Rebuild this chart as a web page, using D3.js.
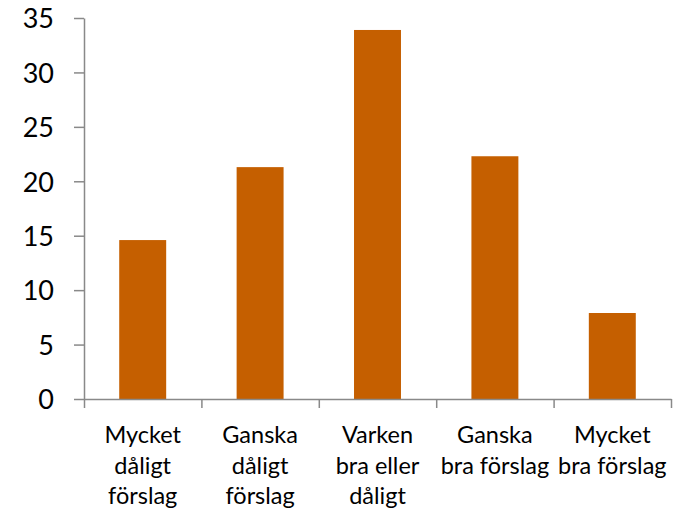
<!DOCTYPE html>
<html>
<head>
<meta charset="utf-8">
<script src="https://cdn.jsdelivr.net/npm/d3@7"></script>
<style>
  body { margin: 0; background: #fff; }
  text { font-family: Lato, "Open Sans", sans-serif; fill: #000; }
</style>
</head>
<body>
<div id="chart"></div>
<script>
// data
const categories = ['Mycket dåligt förslag', 'Ganska dåligt förslag', 'Varken bra eller dåligt', 'Ganska bra förslag', 'Mycket bra förslag'];
const labelLines = [
  ['Mycket', 'dåligt', 'förslag'],
  ['Ganska', 'dåligt', 'förslag'],
  ['Varken', 'bra eller', 'dåligt'],
  ['Ganska', 'bra förslag'],
  ['Mycket', 'bra förslag']
];
const values = [14.6, 21.3, 33.9, 22.3, 7.9];
const yTicks = [0, 5, 10, 15, 20, 25, 30, 35];

const W = 681, H = 514;
const margin = { left: 84, right: 10, top: 18, bottom: 115 };
const width = W - margin.left - margin.right;
const height = H - margin.top - margin.bottom;
const axisColor = '#898989';

const svg = d3.select('#chart')
  .append('svg')
  .attr('width', W)
  .attr('height', H);

const g = svg.append('g')
  .attr('transform', 'translate(' + margin.left + ',' + margin.top + ')');

// scales
const x = d3.scaleBand()
  .domain(categories)
  .range([0, width])
  .paddingInner(0.6)
  .paddingOuter(0.3);

const xEdge = d3.scaleLinear()
  .domain([0, categories.length])
  .range([0, width]);

const y = d3.scaleLinear().domain([0, 35]).range([height, 0]);

// bars
g.selectAll('rect.bar')
  .data(values)
  .enter()
  .append('rect')
  .attr('class', 'bar')
  .attr('x', (d, i) => x(categories[i]))
  .attr('width', x.bandwidth())
  .attr('y', d => y(d))
  .attr('height', d => y(0) - y(d))
  .attr('fill', '#c55f00');

// y axis
const yAxis = g.append('g')
  .call(d3.axisLeft(y).tickValues(yTicks).tickSize(10).tickSizeOuter(0).tickPadding(20));
yAxis.selectAll('text').attr('font-size', '27px').attr('dy', '0.36em');

// x axis (ticks at band edges)
const xAxis = g.append('g')
  .attr('transform', 'translate(0,' + height + ')')
  .call(d3.axisBottom(xEdge).ticks(categories.length).tickSize(9).tickSizeOuter(0).tickFormat(''));

[yAxis, xAxis].forEach(a => {
  a.select('.domain').attr('stroke', axisColor).attr('stroke-width', 1.5);
  a.selectAll('.tick line').attr('stroke', axisColor).attr('stroke-width', 1.5);
  a.selectAll('.tick text').attr('fill', '#000');
});

// category labels
const lab = g.selectAll('text.cat')
  .data(labelLines)
  .enter()
  .append('text')
  .attr('class', 'cat')
  .attr('text-anchor', 'middle')
  .attr('font-size', '23.5px')
  .attr('transform', (d, i) => 'translate(' + (x(categories[i]) + x.bandwidth() / 2) + ',' + (height + 44) + ')');

lab.selectAll('tspan')
  .data(d => d)
  .enter()
  .append('tspan')
  .attr('x', 0)
  .attr('y', (d, i) => i * 30.5)
  .text(d => d);
</script>
</body>
</html>
